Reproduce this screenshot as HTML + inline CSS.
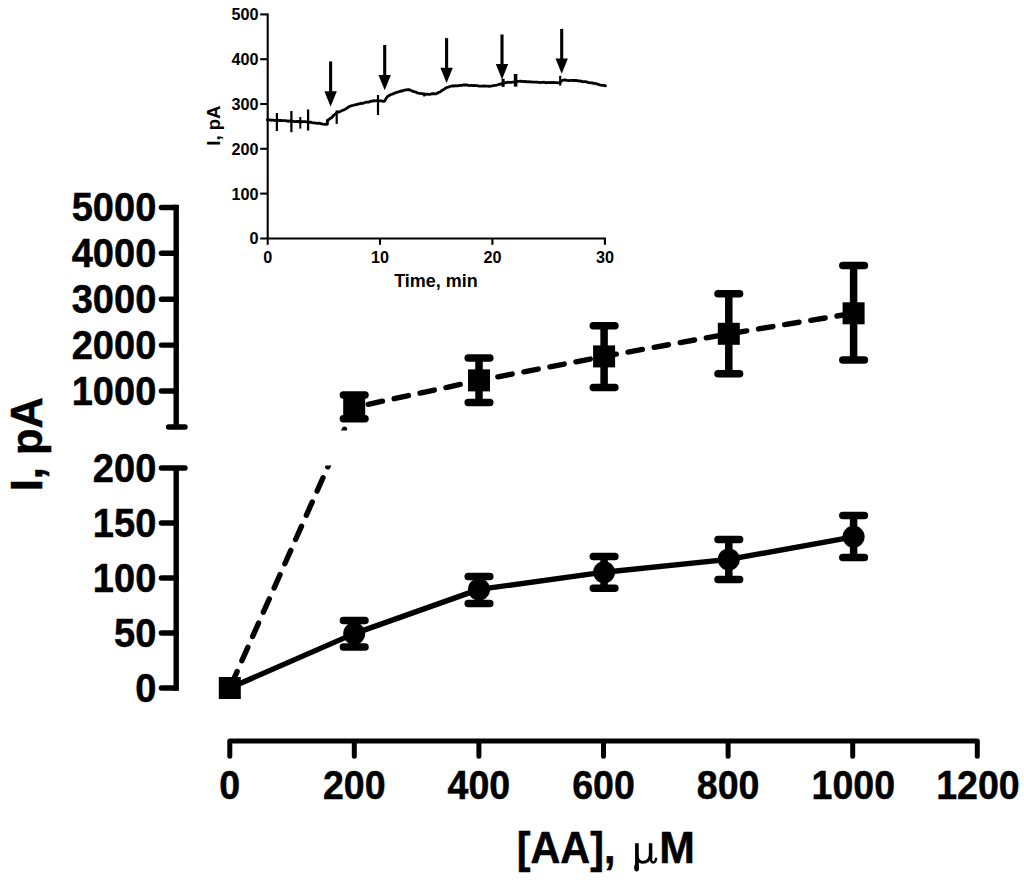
<!DOCTYPE html>
<html>
<head>
<meta charset="utf-8">
<title>I vs [AA]</title>
<style>
html,body{margin:0;padding:0;background:#fff;}
body{width:1024px;height:882px;overflow:hidden;}
svg{display:block;}
text{font-family:"Liberation Sans",sans-serif;font-weight:bold;fill:#000;}
.ax{stroke:#000;stroke-width:5.4;stroke-linecap:round;stroke-linejoin:round;fill:none;}
.axb{stroke:#000;stroke-width:5.4;stroke-linecap:butt;fill:none;}
.xax{stroke:#000;stroke-width:5;stroke-linecap:round;stroke-linejoin:round;fill:none;}
.iax{stroke:#000;stroke-width:2.1;fill:none;}
.eb{stroke:#000;stroke-width:7.5;stroke-linecap:round;fill:none;}
</style>
</head>
<body>
<svg width="1024" height="882" viewBox="0 0 1024 882">
<rect x="0" y="0" width="1024" height="882" fill="#fff"/>

<g id="yaxis-upper">
<line class="axb" x1="176.2" y1="204.8" x2="176.2" y2="427"/>
<line class="ax" x1="161.4" y1="207.5" x2="176.2" y2="207.5"/>
<text transform="translate(156.3,221.2) scale(0.937,1)" font-size="40.6" text-anchor="end" stroke="#000" stroke-width="0.5">5000</text>
<line class="ax" x1="161.4" y1="253.3" x2="176.2" y2="253.3"/>
<text transform="translate(156.3,267.0) scale(0.937,1)" font-size="40.6" text-anchor="end" stroke="#000" stroke-width="0.5">4000</text>
<line class="ax" x1="161.4" y1="299.2" x2="176.2" y2="299.2"/>
<text transform="translate(156.3,312.9) scale(0.937,1)" font-size="40.6" text-anchor="end" stroke="#000" stroke-width="0.5">3000</text>
<line class="ax" x1="161.4" y1="345.1" x2="176.2" y2="345.1"/>
<text transform="translate(156.3,358.8) scale(0.937,1)" font-size="40.6" text-anchor="end" stroke="#000" stroke-width="0.5">2000</text>
<line class="ax" x1="161.4" y1="391" x2="176.2" y2="391"/>
<text transform="translate(156.3,404.7) scale(0.937,1)" font-size="40.6" text-anchor="end" stroke="#000" stroke-width="0.5">1000</text>
<line class="ax" x1="168.6" y1="427" x2="185" y2="427"/>
</g>
<g id="yaxis-lower">
<line class="axb" x1="176.2" y1="468" x2="176.2" y2="690.7"/>
<line class="ax" x1="161.4" y1="468" x2="185" y2="468"/>
<text transform="translate(156.3,481.7) scale(0.937,1)" font-size="40.6" text-anchor="end" stroke="#000" stroke-width="0.5">200</text>
<line class="ax" x1="161.4" y1="523" x2="176.2" y2="523"/>
<text transform="translate(156.3,536.7) scale(0.937,1)" font-size="40.6" text-anchor="end" stroke="#000" stroke-width="0.5">150</text>
<line class="ax" x1="161.4" y1="578" x2="176.2" y2="578"/>
<text transform="translate(156.3,591.7) scale(0.937,1)" font-size="40.6" text-anchor="end" stroke="#000" stroke-width="0.5">100</text>
<line class="ax" x1="161.4" y1="633" x2="176.2" y2="633"/>
<text transform="translate(156.3,646.7) scale(0.937,1)" font-size="40.6" text-anchor="end" stroke="#000" stroke-width="0.5">50</text>
<line class="ax" x1="161.4" y1="688" x2="176.2" y2="688"/>
<text transform="translate(156.3,701.7) scale(0.937,1)" font-size="40.6" text-anchor="end" stroke="#000" stroke-width="0.5">0</text>
</g>
<text transform="translate(42.2,444.2) rotate(-90) scale(0.975,1)" font-size="44.6" text-anchor="middle" stroke="#000" stroke-width="0.5">I, pA</text>
<g id="xaxis">
<path class="xax" d="M229.8,756.3000000000001V741.1H977.3V756.3000000000001M354.3,741.1V756.3000000000001M478.9,741.1V756.3000000000001M603.5,741.1V756.3000000000001M728.1,741.1V756.3000000000001M852.7,741.1V756.3000000000001"/>
<text transform="translate(229.8,799.4) scale(0.925,1)" font-size="40.6" text-anchor="middle" stroke="#000" stroke-width="0.5">0</text>
<text transform="translate(354.3,799.4) scale(0.925,1)" font-size="40.6" text-anchor="middle" stroke="#000" stroke-width="0.5">200</text>
<text transform="translate(478.9,799.4) scale(0.925,1)" font-size="40.6" text-anchor="middle" stroke="#000" stroke-width="0.5">400</text>
<text transform="translate(603.5,799.4) scale(0.925,1)" font-size="40.6" text-anchor="middle" stroke="#000" stroke-width="0.5">600</text>
<text transform="translate(728.1,799.4) scale(0.925,1)" font-size="40.6" text-anchor="middle" stroke="#000" stroke-width="0.5">800</text>
<text transform="translate(853.3000000000001,799.4) scale(0.925,1)" font-size="40.6" text-anchor="middle" stroke="#000" stroke-width="0.5">1000</text>
<text transform="translate(977.9,799.4) scale(0.925,1)" font-size="40.6" text-anchor="middle" stroke="#000" stroke-width="0.5">1200</text>
</g>
<text transform="translate(516.8,862.8) scale(0.926,1)" font-size="44.6" text-anchor="start" stroke="#000" stroke-width="0.5">[AA],</text>
<text transform="translate(659.2,862.8) scale(0.959,1)" font-size="44.6" text-anchor="start" stroke="#000" stroke-width="0.5">M</text>
<g id="mu" fill="none" stroke="#000" stroke-linecap="round" stroke-linejoin="round">
<path d="M636.9,843.2V866.5" stroke-width="3.7" stroke-linecap="butt"/>
<ellipse cx="636.6" cy="867.6" rx="2.5" ry="3.9" fill="#000" stroke="none"/>
<path d="M637.2,855.5C637.4,860.2 639.6,862.2 642.8,862.2C646.6,862.2 649.6,859.6 650.4,855.2" stroke-width="3"/>
<path d="M650.6,843.2V858.6" stroke-width="3.5" stroke-linecap="butt"/>
<path d="M650.7,857.5C650.8,861 651.8,862.5 653.3,862.5C654.8,862.5 655.7,861 656.1,858.6" stroke-width="2.4"/>
</g>
<g id="series-squares">
<defs><clipPath id="brk"><path d="M0,0H1024V430.5H0Z M0,465.6H1024V882H0Z"/></clipPath></defs>
<polyline clip-path="url(#brk)" points="229.8,688 354.2,407.3 479,380.4 604.1,356.4 728.8,333.8 853.6,313.3" fill="none" stroke="#000" stroke-width="5.4" stroke-linecap="round" stroke-linejoin="round" stroke-dasharray="14.6 11.9" stroke-dashoffset="-3.4"/>
<rect x="218.8" y="677.0" width="22" height="22"/>
<path class="eb" d="M343.4,395H365.0M354.2,395V418.8M343.4,418.8H365.0"/>
<rect x="343.2" y="396.3" width="22" height="22"/>
<path class="eb" d="M468.2,358H489.8M479,358V402.5M468.2,402.5H489.8"/>
<rect x="468.0" y="369.4" width="22" height="22"/>
<path class="eb" d="M593.3,325.8H614.9M604.1,325.8V387.5M593.3,387.5H614.9"/>
<rect x="593.1" y="345.4" width="22" height="22"/>
<path class="eb" d="M718.0,293.8H739.6M728.8,293.8V373.8M718.0,373.8H739.6"/>
<rect x="717.8" y="322.8" width="22" height="22"/>
<path class="eb" d="M842.8,265.4H864.4M853.6,265.4V360M842.8,360H864.4"/>
<rect x="842.6" y="302.3" width="22" height="22"/>
</g>
<g id="series-circles">
<polyline points="229.8,688 354.2,633.6 479,589.4 604.1,572.2 728.8,559.4 853.6,536.8" fill="none" stroke="#000" stroke-width="5.4" stroke-linejoin="round"/>
<path class="eb" d="M343.4,620.4H365.0M354.2,620.4V647M343.4,647H365.0"/>
<circle cx="354.2" cy="633.6" r="11"/>
<path class="eb" d="M468.2,576.4H489.8M479,576.4V603.5M468.2,603.5H489.8"/>
<circle cx="479" cy="589.4" r="11"/>
<path class="eb" d="M593.3,556.6H614.9M604.1,556.6V588.2M593.3,588.2H614.9"/>
<circle cx="604.1" cy="572.2" r="11"/>
<path class="eb" d="M718.0,539.6H739.6M728.8,539.6V579.4M718.0,579.4H739.6"/>
<circle cx="728.8" cy="559.4" r="11"/>
<path class="eb" d="M842.8,515.4H864.4M853.6,515.4V557.6M842.8,557.6H864.4"/>
<circle cx="853.6" cy="536.8" r="11"/>
</g>
<g id="inset">
<path class="iax" d="M267.7,13.4V238.5M260.2,238.5H606"/>
<line class="iax" x1="260.2" y1="14.4" x2="267.7" y2="14.4"/>
<text transform="translate(258.6,20.3) scale(1.0,1)" font-size="16.2" text-anchor="end">500</text>
<line class="iax" x1="260.2" y1="59.2" x2="267.7" y2="59.2"/>
<text transform="translate(258.6,65.1) scale(1.0,1)" font-size="16.2" text-anchor="end">400</text>
<line class="iax" x1="260.2" y1="104" x2="267.7" y2="104"/>
<text transform="translate(258.6,109.9) scale(1.0,1)" font-size="16.2" text-anchor="end">300</text>
<line class="iax" x1="260.2" y1="148.8" x2="267.7" y2="148.8"/>
<text transform="translate(258.6,154.7) scale(1.0,1)" font-size="16.2" text-anchor="end">200</text>
<line class="iax" x1="260.2" y1="193.6" x2="267.7" y2="193.6"/>
<text transform="translate(258.6,199.5) scale(1.0,1)" font-size="16.2" text-anchor="end">100</text>
<text transform="translate(258.6,244.4) scale(1.0,1)" font-size="16.2" text-anchor="end">0</text>
<line class="iax" x1="267.7" y1="238.5" x2="267.7" y2="244.8"/>
<text transform="translate(267.7,263.2) scale(1.0,1)" font-size="16.2" text-anchor="middle">0</text>
<line class="iax" x1="380" y1="238.5" x2="380" y2="244.8"/>
<text transform="translate(380,263.2) scale(1.0,1)" font-size="16.2" text-anchor="middle">10</text>
<line class="iax" x1="492.4" y1="238.5" x2="492.4" y2="244.8"/>
<text transform="translate(492.4,263.2) scale(1.0,1)" font-size="16.2" text-anchor="middle">20</text>
<line class="iax" x1="604.9" y1="238.5" x2="604.9" y2="244.8"/>
<text transform="translate(604.9,263.2) scale(1.0,1)" font-size="16.2" text-anchor="middle">30</text>
<text transform="translate(436,287.3) scale(0.988,1)" font-size="18.2" text-anchor="middle">Time, min</text>
<text transform="translate(220.1,125.6) rotate(-90) scale(1.02,1)" font-size="18.2" text-anchor="middle">I, pA</text>
<polyline fill="none" stroke="#000" stroke-width="2.8" stroke-linejoin="round" stroke-linecap="round" points="267.3,120.0 268.7,119.95 270.0,119.9 271.4,120.32 272.8,119.99 274.2,120.38 275.5,120.33 276.9,120.5 278.3,120.26 279.7,120.65 281.1,120.39 282.5,120.73 283.9,120.55 285.4,120.63 286.8,120.94 288.2,121.29 289.6,120.87 291.0,121.2 292.3,121.07 293.6,121.41 294.9,121.7 296.2,121.5 297.5,121.44 298.8,121.9 300.2,121.31 301.5,121.94 302.8,121.61 304.1,121.57 305.4,121.61 306.7,121.8 308.0,122.0 309.3,122.4 310.7,122.14 312.0,122.61 313.3,122.83 314.7,122.83 316.0,123.1 317.4,123.35 318.8,123.23 320.2,123.45 321.6,123.77 323.0,124.2 324.9,124.43 326.9,124.4 327.5,120.5 328.9,119.52 330.2,118.5 331.6,117.7 334.0,115.0 336.5,113.0 338.2,112.31 340.0,111.5 341.3,110.9 342.7,110.23 344.0,109.8 345.3,109.17 346.7,108.27 348.0,107.3 349.9,106.27 351.9,105.6 353.4,105.25 354.9,104.82 356.5,104.66 358.0,104.0 359.6,103.86 361.2,103.25 362.8,103.44 364.4,102.8 365.8,102.23 367.2,102.14 368.6,102.08 370.0,101.6 371.4,101.14 372.8,101.15 374.1,100.62 375.5,100.84 376.9,100.5 378.4,100.84 380.0,100.8 381.6,100.98 383.1,101.33 384.7,101.2 386.0,98.5 387.5,96.6 389.2,95.42 391.0,94.5 392.5,94.04 394.1,93.37 395.6,92.7 397.0,92.33 398.3,91.82 399.6,91.66 401.0,91.0 402.3,90.98 403.7,90.32 405.0,90.0 406.5,89.91 408.0,89.6 409.5,89.74 411.0,90.5 412.5,91.14 414.1,91.6 415.6,92.0 417.1,92.78 418.5,93.09 420.0,93.3 421.4,93.52 422.8,93.95 424.2,94.4 425.6,94.49 427.1,94.02 428.6,94.3 430.0,94.3 431.3,93.93 432.7,93.75 434.0,93.57 435.4,93.93 436.7,93.6 438.4,92.54 440.0,92.0 441.5,90.79 443.0,89.86 444.5,88.9 446.9,87.3 448.4,87.16 450.0,86.5 451.6,85.97 453.1,86.0 454.7,85.8 456.0,85.71 457.4,85.82 458.7,85.65 460.0,85.3 461.4,85.48 462.8,84.99 464.2,85.02 465.6,85.0 467.1,85.02 468.6,85.51 470.0,85.68 471.5,85.24 473.0,85.6 474.4,85.47 475.7,85.61 477.1,85.71 478.5,85.99 479.8,86.16 481.2,86.2 482.5,86.02 483.9,85.82 485.2,86.1 486.6,86.05 487.9,86.18 489.3,86.43 490.6,86.1 492.1,85.97 493.5,85.58 495.0,85.3 496.7,85.02 498.3,84.69 500.0,84.2 501.5,83.79 503.0,84.0 505.0,82.6 506.4,82.68 507.8,82.2 509.4,82.4 510.9,82.46 512.5,82.2 514.2,82.11 516.0,81.6 517.5,81.47 519.0,81.43 520.4,81.17 521.9,81.4 523.6,81.63 525.3,81.36 527.0,81.8 528.5,81.6 529.9,81.8 531.3,81.86 532.8,82.2 534.2,82.17 535.7,82.05 537.1,82.09 538.6,82.28 540.0,82.6 541.4,82.3 542.8,82.46 544.1,82.21 545.5,82.78 546.9,82.5 548.6,82.61 550.3,82.32 552.0,82.6 553.5,82.48 554.9,82.59 556.3,82.65 557.8,82.8 560.2,82.4 562.0,80.5 563.8,79.99 565.6,80.0 567.2,80.34 568.8,80.55 570.4,80.28 572.0,80.4 573.5,80.51 575.0,80.36 576.6,80.5 578.1,80.9 579.6,80.99 581.0,81.14 582.5,81.73 584.0,81.7 585.3,81.68 586.6,81.81 588.0,82.68 589.3,82.6 590.6,82.8 592.1,82.83 593.6,83.39 595.0,83.31 596.5,83.94 598.0,84.2 599.5,84.87 601.0,85.13 602.5,85.36 604.0,85.39 605.5,85.9"/>
<line x1="276.9" y1="113" x2="276.9" y2="131" stroke="#000" stroke-width="2.3"/>
<line x1="291.4" y1="111" x2="291.4" y2="132.2" stroke="#000" stroke-width="2.3"/>
<line x1="300.3" y1="117" x2="300.3" y2="128.6" stroke="#000" stroke-width="2.0"/>
<line x1="308.1" y1="109.4" x2="308.1" y2="130.6" stroke="#000" stroke-width="2.3"/>
<line x1="327.3" y1="119.5" x2="327.3" y2="125" stroke="#000" stroke-width="2.6"/>
<line x1="336.7" y1="110.3" x2="336.7" y2="123.9" stroke="#000" stroke-width="2.2"/>
<line x1="378" y1="95" x2="378" y2="115" stroke="#000" stroke-width="2.2"/>
<line x1="424.2" y1="92.5" x2="424.2" y2="96.5" stroke="#000" stroke-width="2.0"/>
<line x1="503.1" y1="78.8" x2="503.1" y2="86.9" stroke="#000" stroke-width="3.0"/>
<line x1="515.6" y1="74" x2="515.6" y2="86.6" stroke="#000" stroke-width="3.6"/>
<line x1="560.2" y1="75.8" x2="560.2" y2="85.6" stroke="#000" stroke-width="2.2"/>
<path d="M330.6,61.4V92.7" stroke="#000" stroke-width="3.1" fill="none"/>
<path d="M324.4,91.3H336.8L330.6,106.7Z" fill="#000"/>
<path d="M384.7,45V76.3" stroke="#000" stroke-width="3.1" fill="none"/>
<path d="M378.5,74.9H390.9L384.7,90.3Z" fill="#000"/>
<path d="M446.6,38.1V69.1" stroke="#000" stroke-width="3.1" fill="none"/>
<path d="M440.4,67.7H452.8L446.6,83.1Z" fill="#000"/>
<path d="M502,34.5V65.5" stroke="#000" stroke-width="3.1" fill="none"/>
<path d="M495.8,64.1H508.2L502,79.5Z" fill="#000"/>
<path d="M561.7,28.9V59.8" stroke="#000" stroke-width="3.1" fill="none"/>
<path d="M555.5,58.4H567.9L561.7,73.8Z" fill="#000"/>
</g>
</svg>
</body>
</html>
